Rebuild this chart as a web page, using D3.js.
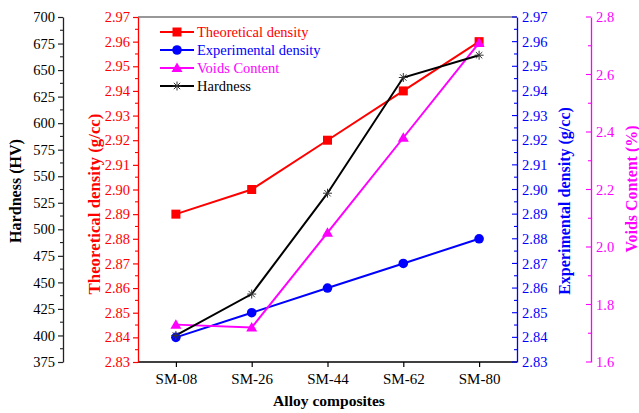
<!DOCTYPE html>
<html><head><meta charset="utf-8">
<script src="https://cdn.jsdelivr.net/npm/d3@7"></script>
<style>body{margin:0;background:#fff}svg{display:block}text{font-family:"Liberation Serif","Times New Roman",serif}</style>
</head><body>
<script>
const categories = ["SM-08","SM-26","SM-44","SM-62","SM-80"];
const theoretical = [2.89, 2.90, 2.92, 2.94, 2.96];
const experimental = [2.84, 2.85, 2.86, 2.87, 2.88];
const voids = [1.73, 1.72, 2.05, 2.38, 2.71];
const hardness = [400, 439, 534, 643, 664];
const hardTicks = d3.range(375, 701, 25);
const densTicks = d3.range(2.83, 2.9701, 0.01);
const voidTicks = [1.6, 1.8, 2.0, 2.2, 2.4, 2.6, 2.8];

(function () {
const W = 639, H = 413;
const pL = 138, pR = 517, pT = 17, pB = 362;
const svg = d3.select("body").append("svg").attr("width", W).attr("height", H);

const x = d3.scalePoint().domain(categories).range([pL, pR]).padding(0.5);
const yH = d3.scaleLinear().domain([375, 700]).range([pB, pT]);
const yD = d3.scaleLinear().domain([2.83, 2.97]).range([pB, pT]);
const yV = d3.scaleLinear().domain([1.6, 2.8]).range([pB, pT]);

const RED = "#ff0000", BLUE = "#0000ff", MAG = "#ff00ff", BLK = "#000";

svg.append("line").attr("x1", pL).attr("x2", pR).attr("y1", pT).attr("y2", pT).attr("stroke", "#333").attr("stroke-width", 1.2);

function styleAxis(g, color) {
  g.selectAll("path").attr("stroke", color).attr("stroke-width", 1.3);
  g.selectAll("line").attr("stroke", color).attr("stroke-width", 1.2);
  g.selectAll("text").attr("fill", color).style("font-size", "14.5px").style("font-family", "Liberation Serif");
}
function minor(xpos, scale, vals, color, len) {
  svg.append("g").selectAll("line").data(vals).join("line")
    .attr("x1", xpos - len).attr("x2", xpos).attr("y1", d => scale(d)).attr("y2", d => scale(d))
    .attr("stroke", color).attr("stroke-width", 1.1);
}

const gx = svg.append("g").attr("transform", `translate(0,${pB})`)
  .call(d3.axisBottom(x).tickSizeOuter(0).tickSize(5).tickPadding(6));
styleAxis(gx, BLK);
gx.selectAll("text").style("font-size", "15px");
gx.select("path").attr("d", `M${pL},0H${pR}`);

const hx = 63;
const gh = svg.append("g").attr("transform", `translate(${hx},0)`)
  .call(d3.axisLeft(yH).tickValues(hardTicks).tickFormat(d3.format("d")).tickSize(5).tickSizeOuter(0).tickPadding(3));
styleAxis(gh, BLK);
gh.selectAll("line").attr("stroke", "#222");
gh.select("path").attr("stroke", "#222");
minor(hx, yH, d3.range(387.5, 700, 25), "#222", 3);

const gt = svg.append("g").attr("transform", `translate(${pL},0)`)
  .call(d3.axisLeft(yD).tickValues(densTicks).tickFormat(d3.format(".2f")).tickSize(5).tickSizeOuter(0).tickPadding(3));
styleAxis(gt, RED);
minor(pL, yD, d3.range(2.835, 2.97, 0.01), RED, 3);

const ge = svg.append("g").attr("transform", `translate(${pR},0)`)
  .call(d3.axisRight(yD).tickValues(densTicks).tickFormat(d3.format(".2f")).tickSize(0).tickSizeOuter(0).tickPadding(5));
styleAxis(ge, BLUE);
minor(pR, yD, densTicks, BLUE, 5);
minor(pR, yD, d3.range(2.835, 2.97, 0.01), BLUE, 3);

const vx = 591;
const gv = svg.append("g").attr("transform", `translate(${vx},0)`)
  .call(d3.axisRight(yV).tickValues(voidTicks).tickFormat(d3.format(".1f")).tickSize(0).tickSizeOuter(0).tickPadding(5));
styleAxis(gv, MAG);
minor(vx, yV, voidTicks, MAG, 5);
minor(vx, yV, [1.7, 1.9, 2.1, 2.3, 2.5, 2.7], MAG, 3);

function fitText(t, target) {
  const len = t.node().getComputedTextLength();
  const fs = 15 * target / len;
  t.style("font-size", Math.min(18, Math.max(12, fs)) + "px");
}
function vtitle(xp, yp, txt, color, target) {
  const t = svg.append("text").attr("transform", `translate(${xp},${yp}) rotate(-90)`).attr("text-anchor", "middle")
    .attr("fill", color).style("font-size", "15px").style("font-weight", "bold").text(txt);
  fitText(t, target);
}
vtitle(21, 191, "Hardness (HV)", BLK, 104);
vtitle(100, 204, "Theoretical density (g/cc)", RED, 181);
vtitle(570, 201, "Experimental density (g/cc)", BLUE, 188);
vtitle(637, 189, "Voids Content (%)", MAG, 127);
const xt = svg.append("text").attr("x", 329).attr("y", 406).attr("text-anchor", "middle")
  .style("font-size", "15px").style("font-weight", "bold").text("Alloy composites");
fitText(xt, 112);

const series = [
  {vals: theoretical, y: yD, color: RED, m: "square", name: "Theoretical density"},
  {vals: experimental, y: yD, color: BLUE, m: "circle", name: "Experimental density"},
  {vals: voids, y: yV, color: MAG, m: "triangle", name: "Voids Content"},
  {vals: hardness, y: yH, color: BLK, m: "star", name: "Hardness"}
];
function marker(g, type, color, cx, cy) {
  if (type === "square") g.append("rect").attr("x", cx - 4.5).attr("y", cy - 4.5).attr("width", 9).attr("height", 9).attr("fill", color);
  else if (type === "circle") g.append("circle").attr("cx", cx).attr("cy", cy).attr("r", 4.8).attr("fill", color);
  else if (type === "triangle") g.append("path").attr("d", `M${cx},${cy - 5.5}L${cx + 5.5},${cy + 4}L${cx - 5.5},${cy + 4}Z`).attr("fill", color);
  else {
    const r = 4.5;
    [0, 45, 90, 135].forEach(a => {
      const rad = a * Math.PI / 180;
      g.append("line").attr("x1", cx - r * Math.cos(rad)).attr("y1", cy - r * Math.sin(rad))
        .attr("x2", cx + r * Math.cos(rad)).attr("y2", cy + r * Math.sin(rad)).attr("stroke", "#333").attr("stroke-width", 1);
    });
  }
}
series.forEach(s => {
  const line = d3.line().x((d, i) => x(categories[i])).y(d => s.y(d));
  svg.append("path").datum(s.vals).attr("d", line).attr("fill", "none").attr("stroke", s.color).attr("stroke-width", 2);
});
series.forEach(s => {
  const g = svg.append("g");
  s.vals.forEach((v, i) => marker(g, s.m, s.color, x(categories[i]), s.y(v)));
});

const lg = svg.append("g");
series.forEach((s, i) => {
  const ly = 32 + i * 18;
  lg.append("line").attr("x1", 160).attr("x2", 194).attr("y1", ly).attr("y2", ly).attr("stroke", s.color).attr("stroke-width", 2);
  marker(lg, s.m, s.color, 177, ly);
  lg.append("text").attr("x", 197).attr("y", ly + 5).attr("fill", s.color).style("font-size", "14.5px").text(s.name);
});
})();
</script>
</body></html>
